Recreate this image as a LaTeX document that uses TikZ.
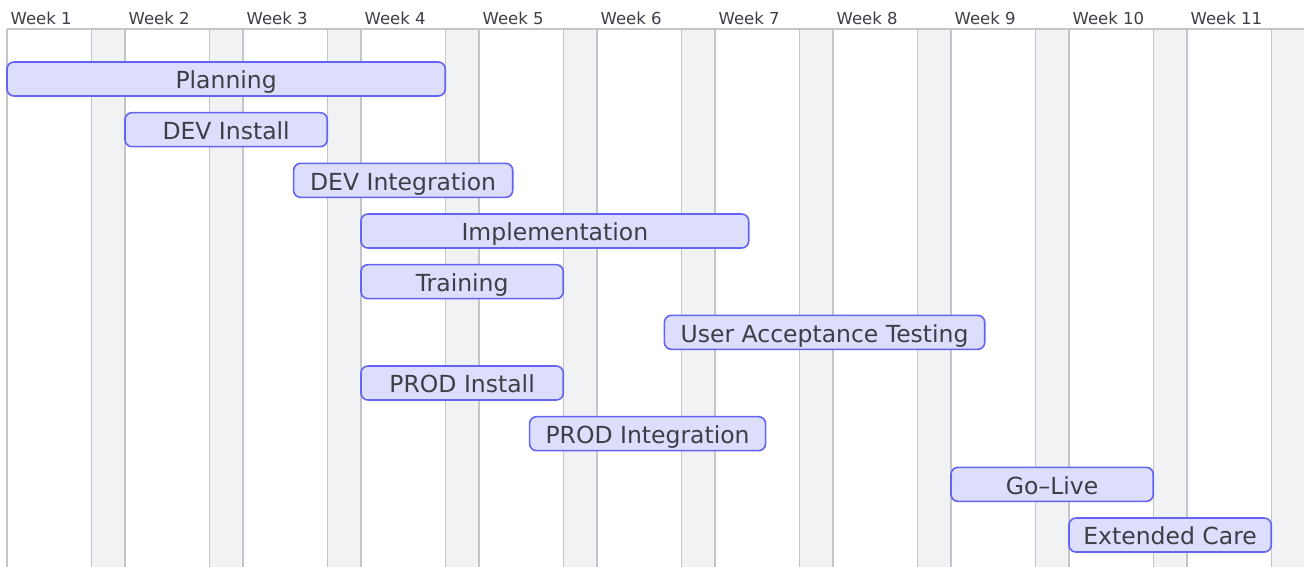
\documentclass[tikz,border=0pt]{standalone}
\usepackage{fontspec}
\setmainfont{DejaVu Sans}
\definecolor{band}{HTML}{F1F2F4}
\definecolor{gridc}{HTML}{C3C5CA}
\definecolor{barfill}{HTML}{DDDDFC}
\definecolor{barline}{HTML}{6464F2}
\definecolor{txt}{HTML}{3C3F46}
\tikzset{
  bar/.style={draw=barline, fill=barfill, line width=1.6pt, rounded corners=7pt, inner sep=0pt,
    text height=19.5pt, text depth=0pt, text=txt, font=\fontsize{23.5}{25}\selectfont},
  weeklbl/.style={anchor=base west, text=txt, inner sep=0pt, font=\fontsize{16.5}{18}\selectfont},
  gridline/.style={draw=gridc, line width=1.1pt}
}
\begin{document}
\begin{tikzpicture}[x=1pt,y=-1pt]
\useasboundingbox (0,0) rectangle (1304,567);
\def\dd{16.857}
% weekend bands
\foreach \w in {0,...,10}{
  \fill[band] ({7+(\w*7+5)*\dd},29) rectangle ({7+(\w*7+7)*\dd},567);
  \draw[gridline] ({7+(\w*7+5)*\dd},29) -- ({7+(\w*7+5)*\dd},567);
  \draw[gridline] ({7+(\w*7+7)*\dd},29) -- ({7+(\w*7+7)*\dd},567);
}
\draw[gridline] (7,29) -- (7,567);
\draw[gridline] (7,29) -- (1304,29);
% week labels
\foreach \w in {1,...,11}{
  \node[weeklbl] (wk\w) at ({10.5+(\w-1)*7*\dd},24.5) {Week \w};
}
% bars
\foreach \nm/\s/\e/\r/\t in {
  plan/0/26/0/Planning,
  devinst/7/19/1/DEV Install,
  devint/17/30/2/DEV Integration,
  impl/21/44/3/Implementation,
  train/21/33/4/Training,
  uat/39/58/5/User Acceptance Testing,
  prodinst/21/33/6/PROD Install,
  prodint/31/45/7/PROD Integration,
  golive/56/68/8/Go–Live,
  care/63/75/9/Extended Care}{
  \node[bar, minimum width={(\e-\s)*\dd}, minimum height=34] (\nm) at ({7+(\s+\e)/2*\dd},{79+50.67*\r}) {\t};
}
\end{tikzpicture}
\end{document}
